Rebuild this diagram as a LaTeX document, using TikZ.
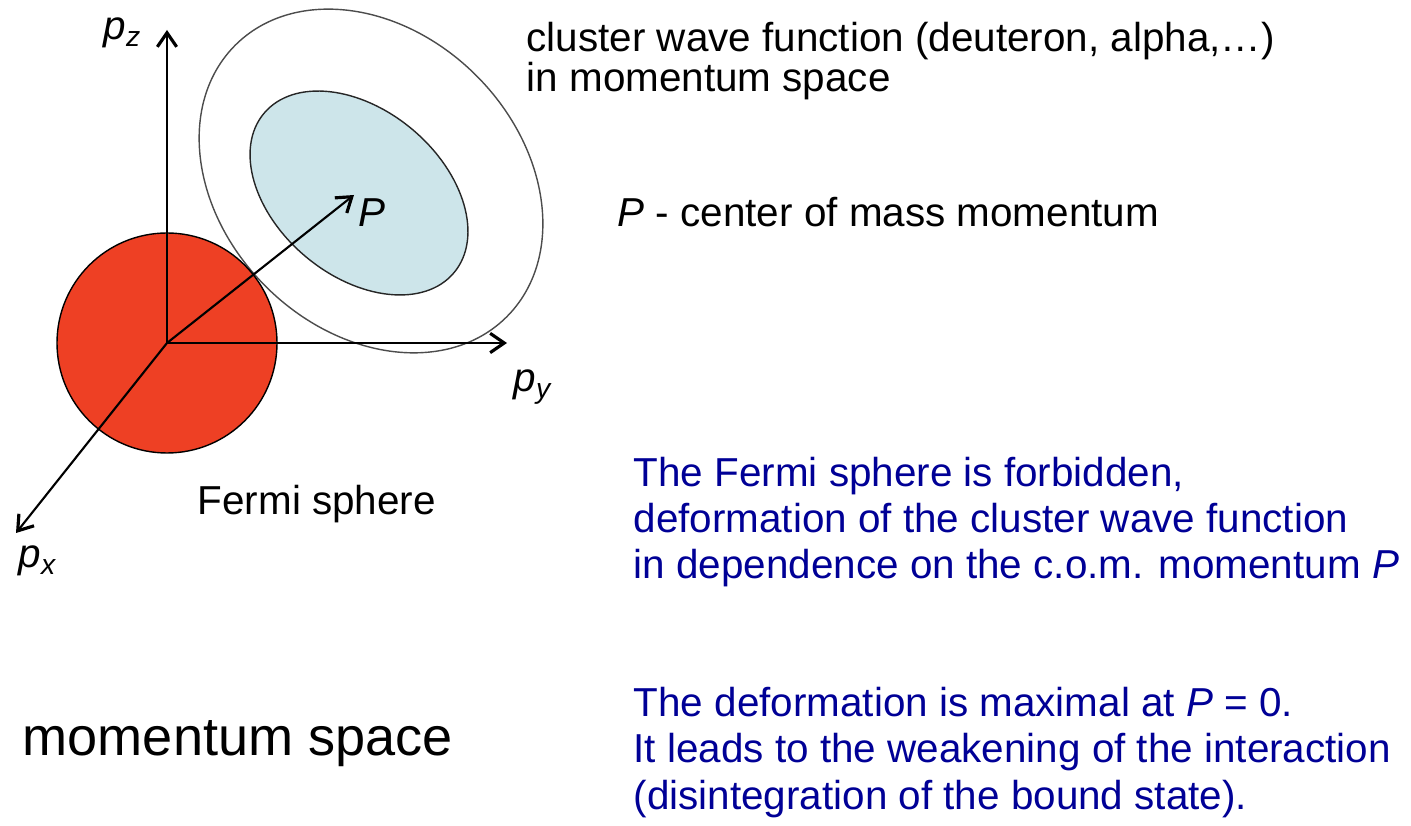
\documentclass[tikz,border=0pt]{standalone}
\usepackage{fontspec}
\setmainfont{Liberation Sans}
\usepackage{tikz}
\usetikzlibrary{arrows.meta, positioning}
\definecolor{fermiRed}{RGB}{238, 64, 36}
\definecolor{clusterBlue}{RGB}{205, 229, 234}
\definecolor{noteBlue}{RGB}{0, 0, 150}

\begin{document}
\begin{tikzpicture}[x=0.1mm, y=0.1mm,
  axis/.style={line width=0.6pt, -{Straight Barb[length=4pt, width=5.5pt, line width=0.9pt]}},
  lbl/.style={anchor=base west, inner sep=0pt, font=\fontsize{11.5}{13}\selectfont},
  txt/.style={lbl, align=left},
  note/.style={txt, noteBlue, font=\fontsize{11.5}{13.1}\selectfont}]
  \useasboundingbox (0,0) rectangle (1411,825);
  \coordinate (O) at (167,482);
  \coordinate (pzEnd) at (167,795);
  \coordinate (pyEnd) at (507,482);
  \coordinate (pxEnd) at (16,292);
  \coordinate (PEnd) at (354,630);
  \coordinate (wfOut) at (371,644);
  \coordinate (wfIn) at (359,632);
  % cluster wave function and Fermi sphere
  \draw[gray!60!black, line width=0.4pt, rotate around={-45:(wfOut)}]
    (wfOut) ellipse [x radius=192, y radius=149];
  \draw[gray!30!black, line width=0.4pt, fill=clusterBlue, rotate around={-40:(wfIn)}]
    (wfIn) ellipse [x radius=124, y radius=83];
  \draw[fill=fermiRed, line width=0.4pt] (O) circle [radius=110];
  % axes
  \draw[axis] (O) -- (pzEnd);
  \draw[axis] (O) -- (pyEnd);
  \draw[axis] (O) -- (pxEnd);
  \draw[axis] (O) -- (PEnd);
  \node[lbl] (pz) at (103,785) {\textit{p\textsubscript{z}}};
  \node[lbl] (py) at (513,433) {\textit{p\textsubscript{y}}};
  \node[lbl] (px) at (18,257) {\textit{p\textsubscript{x}}};
  \node[lbl] (P) at (358,598) {\textit{P}};
  \node[lbl] (fermi) at (197,310) {Fermi sphere};
  % base of a multi-line node is its last line
  \node[txt, font=\fontsize{11.5}{11.4}\selectfont] (wfText) at (526,733)
    {cluster wave function (deuteron, alpha,…)\\in momentum space};
  \node[lbl] (comText) at (617,598) {\textit{P} - center of mass momentum};
  \node[note] (forbid) at (633,246)
    {The Fermi sphere is forbidden,\\deformation of the cluster wave function\\in dependence on the c.o.m. momentum \textit{P}};
  \node[note] (maxDef) at (633,16)
    {The deformation is maximal at \textit{P} = 0.\\It leads to the weakening of the interaction\\(disintegration of the bound state).};
  \node[lbl, font=\fontsize{15.4}{18}\selectfont] (space) at (22,70) {momentum space};
\end{tikzpicture}
\end{document}
